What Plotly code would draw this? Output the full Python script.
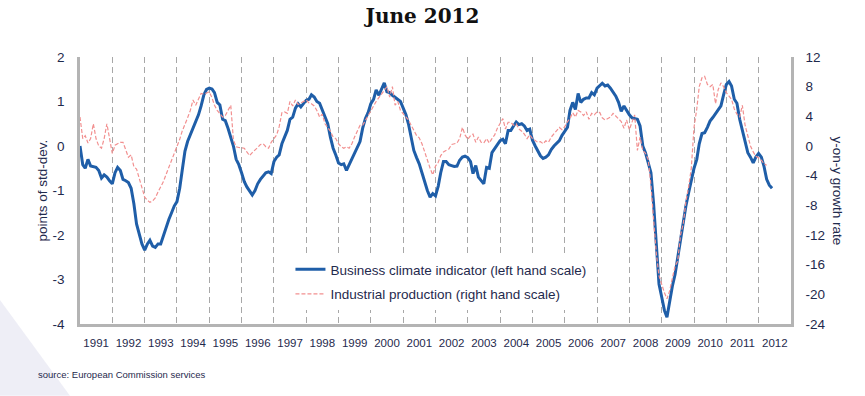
import pandas as pd
import plotly.graph_objects as go

# Business climate indicator, monthly from Jan 1991 (points of std-dev.)
bci = [
    0.0, -0.42, -0.5, -0.3, -0.45, -0.47, -0.48, -0.55, -0.72, -0.65, -0.7, -0.78,
    -0.85, -0.6, -0.48, -0.55, -0.75, -0.78, -0.82, -0.95, -1.3, -1.75, -2.0, -2.2,
    -2.34, -2.2, -2.12, -2.25, -2.28, -2.2, -2.2, -2.0, -1.8, -1.65, -1.5, -1.35,
    -1.25, -0.95, -0.55, -0.12, 0.1, 0.25, 0.38, 0.55, 0.7, 0.9, 1.15, 1.27,
    1.3, 1.28, 1.2, 0.98, 0.92, 0.6, 0.57, 0.4, 0.2, 0.0, -0.3, -0.42,
    -0.6, -0.8, -0.92, -1.0, -1.1, -1.0, -0.85, -0.75, -0.66, -0.6, -0.58, -0.62,
    -0.35, -0.25, -0.2, 0.05, 0.2, 0.35, 0.6, 0.65, 0.85, 0.95, 0.88, 0.95,
    1.03, 1.05, 1.15, 1.1, 1.0, 0.96, 0.8, 0.68, 0.5, 0.2, -0.05, -0.2,
    -0.38, -0.42, -0.4, -0.55, -0.42, -0.3, -0.15, -0.05, 0.1, 0.4, 0.62, 0.75,
    0.95, 1.05, 1.26, 1.14, 1.3, 1.42, 1.22, 1.2, 1.14, 1.1, 1.05, 1.0,
    0.85, 0.7, 0.5, 0.15, -0.1, -0.26, -0.4, -0.6, -0.82, -1.0, -1.15, -1.07,
    -1.12, -0.9, -0.6, -0.35, -0.35, -0.42, -0.44, -0.46, -0.45, -0.32, -0.25, -0.23,
    -0.26, -0.35, -0.62, -0.44, -0.7, -0.78, -0.85, -0.48, -0.5, -0.15, -0.05, 0.05,
    0.12, 0.15, 0.05, 0.35, 0.35, 0.45, 0.54, 0.48, 0.5, 0.45, 0.35, 0.38,
    0.13, 0.0, -0.1, -0.22, -0.28, -0.25, -0.2, -0.08, 0.0, 0.05, 0.12, 0.24,
    0.32, 0.42, 0.8, 0.98, 0.82, 1.18, 0.98, 1.05, 1.08, 1.08, 1.2, 1.15,
    1.3, 1.37, 1.41, 1.35, 1.37, 1.3, 1.22, 1.12, 0.98, 0.78, 0.9, 0.8,
    0.7, 0.63, 0.62, 0.6, 0.45, 0.0, -0.15, -0.35, -0.6, -1.3, -2.2, -3.1,
    -3.4, -3.7, -3.85, -3.45, -3.15, -2.88, -2.5, -2.05, -1.7, -1.35, -1.05, -0.75,
    -0.5, -0.3, 0.05, 0.28, 0.3, 0.42, 0.56, 0.64, 0.72, 0.82, 0.9, 1.15,
    1.38, 1.45, 1.35, 1.05, 0.96, 0.6, 0.35, 0.08, -0.15, -0.25, -0.38, -0.25,
    -0.17, -0.25, -0.45, -0.75, -0.88, -0.95,
]

# Industrial production, y-on-y growth rate (%), monthly from Jan 1991
ip = [
    3.9, 1.0, 1.4, 0.4, 1.0, 3.0, 1.0, 0.0, -0.3, 1.0, 3.0, 1.0,
    -1.0, 0.1, 0.3, 0.5, 0.5, -0.5, -1.5, -1.2, -2.8, -3.1, -4.3, -5.5,
    -6.9, -7.3, -7.6, -7.4, -7.0, -6.2, -5.6, -4.8, -3.8, -2.9, -2.0, -1.2,
    -0.2, 0.9, 2.0, 2.8, 3.8, 4.8, 6.2, 5.5, 6.3, 7.1, 7.0, 7.1,
    7.3, 6.5, 5.5, 4.8, 4.4, 3.9, 4.1, 4.8, 5.5, 0.8, -0.1, -0.2,
    -0.2, -0.3, -0.8, -1.3, -0.9, -0.6, -0.2, 0.2, 0.3, -0.1, -0.3, 0.5,
    1.0, 1.5, 2.6, 4.5, 4.6, 4.4, 6.0, 5.4, 6.2, 5.6, 5.8, 6.0,
    6.2, 5.8, 5.7, 5.4, 4.8, 3.9, 4.3, 3.0, 2.5, 2.0, 1.2, 1.0,
    0.3, -0.1, -0.3, -0.1, -0.3, 0.3, 1.2, 1.9, 2.8, 2.8, 3.5, 4.0,
    4.7, 5.4, 6.0, 6.5, 6.9, 7.5, 8.0, 6.6, 8.0, 5.5, 6.0, 4.8,
    4.3, 3.9, 3.5, 2.8, 2.0, 1.4, 1.1, 0.3, -0.8, -2.0, -3.0, -3.9,
    -2.7, -2.2, -1.3, -0.8, -0.6, -0.4, 0.2, 0.3, 0.4, 1.0, 2.5, 1.5,
    0.9, 1.4, 1.6, 0.5, 1.2, 0.5, 0.4, 1.0, 0.4, 1.0, 1.5, 2.4,
    3.0, 3.7, 2.3, 3.2, 3.2, 2.8, 3.0, 2.3, 2.0, 1.6, 1.0, 1.5,
    1.0, 0.7, 0.5, 0.6, 0.3, 0.7, 0.5, 1.2, 1.6, 2.0, 2.5, 2.2,
    2.6, 3.3, 3.7, 4.5, 3.9, 4.8, 4.6, 4.1, 4.6, 3.6, 4.4, 4.2,
    4.6, 4.5, 3.8, 3.5, 3.7, 3.9, 4.4, 4.0, 3.6, 3.3, 2.4, 3.5,
    2.2, 3.4, 4.2, -0.6, 1.2, -0.6, -1.0, -1.8, -5.3, -10.0, -14.5, -17.5,
    -18.8, -19.8, -20.6, -19.5, -17.8, -16.2, -15.5, -12.0, -10.5, -7.5, -5.5, -3.0,
    2.5, 5.0, 8.0, 9.2, 9.4, 8.3, 8.0, 8.3, 5.7, 7.6, 8.5, 8.0,
    7.2, 6.8, 6.3, 5.0, 4.3, 3.9, 5.5, 2.8, 1.5, 0.0, -0.8, -1.4,
    -1.6, -1.9, -2.4, -2.6,
]

bci_dates = pd.date_range("1991-01-01", periods=len(bci), freq="MS")
ip_dates = pd.date_range("1991-01-01", periods=len(ip), freq="MS")

left_ticks = [2, 1, 0, -1, -2, -3, -4]
left_labels = ["2", "1", "0", "-1", "-2", "-3", "-4"]
right_ticks = [12, 8, 4, 0, -4, -8, -12, -16, -20, -24]
right_labels = ["12", "8", "4", "0", "-4", "-8", "-12", "-16", "-20", "-24"]

TXT = "#1f2a4d"
AX = "#b4b4b4"

fig = go.Figure()
fig.add_trace(go.Scatter(
    x=ip_dates, y=ip, yaxis="y2", mode="lines",
    name="Industrial production (right hand scale)",
    line=dict(color="#f29090", width=1.2, dash="4px,2px"),
    legendgroup="b", legendrank=2,
))
fig.add_trace(go.Scatter(
    x=bci_dates, y=bci, mode="lines",
    name="Business climate indicator (left hand scale)",
    line=dict(color="#1f5ea8", width=3),
    legendgroup="a", legendrank=1,
))

fig.update_layout(
    width=865, height=396,
    margin=dict(l=80, r=74, t=57, b=72),
    paper_bgcolor="white", plot_bgcolor="white",
    font=dict(family="Liberation Sans, Arial, sans-serif", color=TXT, size=13),
    title=dict(text="<b>June 2012</b>", x=422.5 / 865, y=1 - 16 / 396,
               xanchor="center", yanchor="middle",
               font=dict(family="DejaVu Serif, serif", size=20, color="#111111")),
    showlegend=True,
    legend=dict(x=0.296, y=0.262, xanchor="left", yanchor="top",
                bgcolor="white", borderwidth=0, traceorder="grouped",
                tracegroupgap=4, font=dict(size=13.5, color=TXT)),
    xaxis=dict(
        type="date", range=["1991-01-01", "2013-01-01"],
        tick0="1991-01-01", dtick="M12", tickformat="%Y",
        ticklabelmode="period", ticks="", ticklabelstandoff=6,
        showgrid=True, gridcolor="#a8a8a8", gridwidth=1.2, griddash="6px,4px",
        showline=True, linecolor=AX, linewidth=2.5,
        tickfont=dict(size=11.5, color=TXT), zeroline=False,
    ),
    yaxis=dict(
        range=[-4, 2], tickvals=left_ticks, ticktext=left_labels, ticks="",
        showgrid=False, zeroline=False,
        showline=True, linecolor=AX, linewidth=2.5,
        tickfont=dict(size=13.5, color=TXT), ticklabelstandoff=10,
    ),
    yaxis2=dict(
        range=[-24, 12], tickvals=right_ticks, ticktext=right_labels, ticks="",
        overlaying="y", side="right",
        showgrid=False, zeroline=False,
        showline=True, linecolor=AX, linewidth=2.5,
        tickfont=dict(size=13.5, color=TXT), ticklabelstandoff=9,
    ),
    annotations=[
        dict(text="points of std-dev.", xref="paper", yref="paper",
             x=(42 - 80) / 711, y=0.5, textangle=-90, showarrow=False,
             xanchor="center", yanchor="middle", font=dict(size=13.5, color=TXT)),
        dict(text="y-on-y growth rate", xref="paper", yref="paper",
             x=(837 - 80) / 711, y=0.5, textangle=90, showarrow=False,
             xanchor="center", yanchor="middle", font=dict(size=13.5, color=TXT)),
        dict(text="source: European Commission services", xref="paper", yref="paper",
             x=(36 - 80) / 711, y=(324 - 375) / 267.5, showarrow=False,
             xanchor="left", yanchor="middle", font=dict(size=9.5, color=TXT)),
    ],
    shapes=[
        dict(type="path", xref="paper", yref="paper", layer="below",
             path="M %f %f L %f %f L %f %f Z" % (
                 -80 / 711, (324 - 300) / 267.5,
                 -80 / 711, (324 - 396) / 267.5,
                 (70 - 80) / 711, (324 - 396) / 267.5),
             fillcolor="rgba(205,205,230,0.35)", line=dict(width=0)),
    ],
)

fig.write_html("out.html", config={"displayModeBar": False},
               post_script="document.body.style.margin='0px';document.body.style.overflow='hidden';")
